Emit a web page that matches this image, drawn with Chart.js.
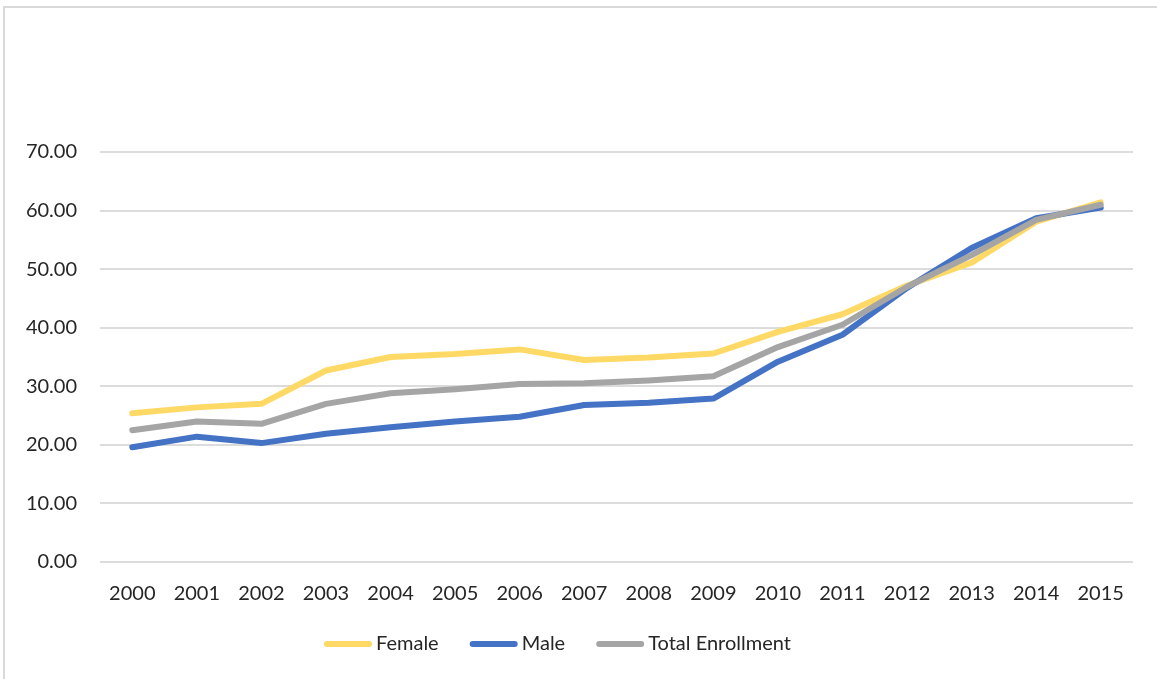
<!DOCTYPE html>
<html>
<head>
<meta charset="utf-8">
<script src="https://cdn.jsdelivr.net/npm/chart.js@4/dist/chart.umd.min.js"></script>
<style>
  html, body { margin: 0; padding: 0; background: #fff; }
  #wrap { position: relative; width: 1157px; height: 679px; overflow: hidden; }
  #frame { position: absolute; left: 3px; top: 6px; right: -10px; bottom: -10px;
           border-top: 2px solid #d9d9d9; border-left: 2px solid #d9d9d9; }
  canvas { position: absolute; left: 0; top: 0; }
</style>
</head>
<body>
<div id="wrap">
  <div id="frame"></div>
  <canvas id="chart" width="1157" height="679"></canvas>
</div>
<script>
const years = ['2000','2001','2002','2003','2004','2005','2006','2007',
               '2008','2009','2010','2011','2012','2013','2014','2015'];
const female = [25.4, 26.4, 27.0, 32.7, 35.0, 35.5, 36.3, 34.5,
                34.9, 35.6, 39.3, 42.3, 47.2, 51.1, 58.1, 61.4];
const male   = [19.6, 21.4, 20.3, 21.9, 23.0, 24.0, 24.8, 26.8,
                27.2, 27.9, 34.2, 38.8, 46.8, 53.6, 58.7, 60.5];
const total  = [22.5, 24.0, 23.6, 27.0, 28.8, 29.5, 30.4, 30.5,
                31.0, 31.7, 36.7, 40.5, 47.0, 52.4, 58.4, 61.0];
const yTicks = [0, 10, 20, 30, 40, 50, 60, 70];

const FONT = 'Lato, "Open Sans", sans-serif';
const TEXT = '#262626';

// Legend row under the axis: short rounded line swatch followed by the series name
const bottomLegend = {
  id: 'bottomLegend',
  afterDraw(chart) {
    const ctx = chart.ctx;
    const sw = 48, gapText = 4, gapItem = 31, y = 644;
    ctx.save();
    ctx.font = '20px ' + FONT;
    ctx.textBaseline = 'middle';
    const items = chart.data.datasets.map(d => ({
      label: d.label, color: d.borderColor, w: sw + gapText + ctx.measureText(d.label).width
    }));
    const total = items.reduce((a, it) => a + it.w, 0) + gapItem * (items.length - 1);
    let x = (chart.chartArea.left + chart.chartArea.right) / 2 - total / 2 - 59;
    x = Math.round(x);
    items.forEach(it => {
      ctx.strokeStyle = it.color;
      ctx.lineWidth = 6;
      ctx.lineCap = 'round';
      ctx.beginPath();
      ctx.moveTo(x + 3, y);
      ctx.lineTo(x + sw - 3, y);
      ctx.stroke();
      ctx.fillStyle = TEXT;
      ctx.fillText(it.label, x + sw + gapText, y);
      x += it.w + gapItem;
    });
    ctx.restore();
  }
};

new Chart(document.getElementById('chart'), {
  type: 'line',
  data: {
    labels: years,
    datasets: [
      { label: 'Female', data: female, borderColor: '#FFD966', backgroundColor: '#FFD966', order: 3 },
      { label: 'Male', data: male, borderColor: '#4472C4', backgroundColor: '#4472C4', order: 2 },
      { label: 'Total Enrollment', data: total, borderColor: '#A5A5A5', backgroundColor: '#A5A5A5', order: 1 }
    ]
  },
  plugins: [bottomLegend],
  options: {
    responsive: false,
    animation: false,
    devicePixelRatio: 1,
    layout: { padding: { top: 152, right: 24, bottom: 53, left: 0 } },
    elements: {
      line: { borderWidth: 6, tension: 0, borderCapStyle: 'round', borderJoinStyle: 'round' },
      point: { radius: 0, hoverRadius: 0 }
    },
    scales: {
      x: {
        offset: true,
        grid: { display: false, drawTicks: false },
        border: { display: false },
        ticks: { color: TEXT, font: { family: FONT, size: 20 }, padding: 20, maxRotation: 0 }
      },
      y: {
        min: 0, max: 70,
        afterBuildTicks: (s) => { s.ticks = yTicks.map(v => ({ value: v })); },
        afterFit: (s) => { s.width = 100; },
        grid: { color: '#dcdcdc', lineWidth: 2, drawTicks: false },
        border: { display: false },
        ticks: { color: TEXT, font: { family: FONT, size: 20 }, padding: 23,
                 callback: (v) => Number(v).toFixed(2) }
      }
    },
    plugins: {
      tooltip: { enabled: false },
      legend: { display: false }
    }
  }
});
</script>
</body>
</html>
